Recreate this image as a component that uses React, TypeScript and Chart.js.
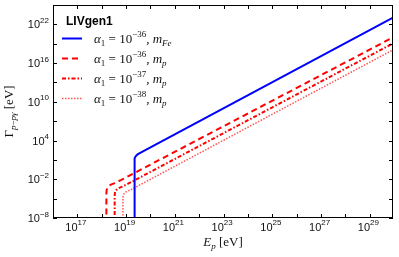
import { useEffect, useRef } from 'react';
import { Chart, registerables } from 'chart.js';

Chart.register(...registerables);

// ---- axis ranges & ticks ----
const X_MIN = 1e16;
const X_MAX = 8.91e29;
const Y_MIN = 1e-8;
const Y_MAX = 1e25;
const xTickExps = [16, 17, 18, 19, 20, 21, 22, 23, 24, 25, 26, 27, 28, 29];
const xLabelExps = [17, 19, 21, 23, 25, 27, 29];
const yTickExps = [-8, -5, -2, 1, 4, 7, 10, 13, 16, 19, 22];
const yLabelExps = [-8, -2, 4, 10, 16, 22];

// ---- series (E_p [eV], Gamma [eV]) ----
const feE = [2.19e19, 2.19e19, 2.21e19, 2.29e19, 2.51e19, 2.95e19, 3.63e19, 5.62e19, 8.91e29];
const feG = [1e-9, 1.58, 6.31, 17.8, 39.8, 70.8, 112, 282, 1.12e23];

const p36E = [1.55e18, 1.55e18, 1.585e18, 1.70e18, 2.0e18, 2.51e18, 3.39e18, 6.31e18, 8.91e29];
const p36G = [1e-9, 6.31e-5, 2.0e-4, 5.01e-4, 1e-3, 1.58e-3, 2.51e-3, 7.94e-3, 9.55e19];

const p37E = [3.39e18, 3.39e18, 3.47e18, 3.72e18, 4.37e18, 5.5e18, 7.41e18, 1.26e19, 8.91e29];
const p37G = [1e-9, 2.51e-5, 7.94e-5, 1.78e-4, 3.16e-4, 5.01e-4, 7.94e-4, 2.24e-3, 1.12e19];

const p38E = [7.41e18, 7.41e18, 7.59e18, 8.13e18, 9.55e18, 1.2e19, 1.58e19, 2.82e19, 8.91e29];
const p38G = [1e-9, 7.94e-6, 2.51e-5, 5.62e-5, 1e-4, 1.58e-4, 2.51e-4, 7.94e-4, 1.12e18];

const legendTitle = 'LIVgen1';
const legendAlphaExp = ['−36', '−36', '−37', '−38'];
const legendMass = ['Fe', 'p', 'p', 'p'];

const SANS = '"Liberation Sans", Arial, sans-serif';
const SERIF = '"Liberation Serif", "Times New Roman", serif';

type Style = { color: string; width: number; dash: number[] };
const styles: Style[] = [
  { color: '#0000ff', width: 2, dash: [] },
  { color: '#ff0000', width: 2, dash: [6, 4] },
  { color: '#ff0000', width: 2, dash: [4, 2, 1.5, 2] },
  { color: 'rgba(255,40,40,0.8)', width: 1.5, dash: [1.5, 1.5] },
];

const toPts = (xs: number[], ys: number[]) => xs.map((x, i) => ({ x, y: ys[i] }));

type Part = { t: string; f: string; dy?: number };
function partsWidth(ctx: CanvasRenderingContext2D, parts: Part[]) {
  let w = 0;
  for (const p of parts) {
    ctx.font = p.f;
    w += ctx.measureText(p.t).width;
  }
  return w;
}
function drawParts(ctx: CanvasRenderingContext2D, parts: Part[], x: number, y: number) {
  let cx = x;
  for (const p of parts) {
    ctx.font = p.f;
    ctx.fillText(p.t, cx, y + (p.dy || 0));
    cx += ctx.measureText(p.t).width;
  }
}
const supMinus = (e: number) => (e < 0 ? '−' + String(-e) : String(e));
const powParts = (e: number): Part[] => [
  { t: '10', f: `11px ${SANS}` },
  { t: supMinus(e), f: `8px ${SANS}`, dy: -5.5 },
];

const overlay = {
  id: 'overlay',
  afterDraw(chart: any) {
    const { ctx, chartArea: a, scales } = chart;
    const xs = scales.x;
    const ys = scales.y;
    ctx.save();
    ctx.strokeStyle = '#000';
    ctx.lineWidth = 1;
    ctx.setLineDash([]);
    // frame
    ctx.strokeRect(Math.round(a.left) + 0.5, Math.round(a.top) + 0.5, Math.round(a.width) - 1, Math.round(a.height) - 1);
    // inward ticks
    ctx.beginPath();
    for (const e of xTickExps) {
      const px = Math.round(xs.getPixelForValue(Math.pow(10, e))) + 0.5;
      ctx.moveTo(px, a.bottom);
      ctx.lineTo(px, a.bottom - 4);
      ctx.moveTo(px, a.top);
      ctx.lineTo(px, a.top + 4);
    }
    for (const e of yTickExps) {
      const py = Math.round(ys.getPixelForValue(Math.pow(10, e))) + 0.5;
      ctx.moveTo(a.left, py);
      ctx.lineTo(a.left + 4, py);
      ctx.moveTo(a.right, py);
      ctx.lineTo(a.right - 4, py);
    }
    ctx.stroke();

    // tick labels
    ctx.fillStyle = '#111';
    ctx.textBaseline = 'alphabetic';
    ctx.textAlign = 'left';
    for (const e of xLabelExps) {
      const px = xs.getPixelForValue(Math.pow(10, e));
      const parts = powParts(e);
      const w = partsWidth(ctx, parts);
      drawParts(ctx, parts, px - w / 2 - 1.5, 230.5);
    }
    for (const e of yLabelExps) {
      const py = ys.getPixelForValue(Math.pow(10, e));
      const parts = powParts(e);
      const w = partsWidth(ctx, parts);
      drawParts(ctx, parts, a.left - 4 - w, py + 4);
    }

    // axis titles
    const xt: Part[] = [
      { t: 'E', f: `italic 13px ${SERIF}` },
      { t: 'p', f: `italic 9px ${SERIF}`, dy: 3 },
      { t: ' [eV]', f: `13px ${SERIF}` },
    ];
    const xw = partsWidth(ctx, xt);
    drawParts(ctx, xt, (a.left + a.right) / 2 - xw / 2, 246);

    const yt: Part[] = [
      { t: 'Γ', f: `13px ${SERIF}` },
      { t: 'p', f: `italic 9px ${SERIF}`, dy: 3 },
      { t: '−', f: `9px ${SERIF}`, dy: 3 },
      { t: 'pγ', f: `italic 9px ${SERIF}`, dy: 3 },
      { t: ' [eV]', f: `13px ${SERIF}` },
    ];
    const yw = partsWidth(ctx, yt);
    ctx.save();
    ctx.translate(13, (a.top + a.bottom) / 2);
    ctx.rotate(-Math.PI / 2);
    drawParts(ctx, yt, -yw / 2, 0);
    ctx.restore();

    // legend
    ctx.font = `bold 12px ${SANS}`;
    ctx.fillStyle = '#000';
    ctx.fillText(legendTitle, 66, 25);
    for (let i = 0; i < legendMass.length; i++) {
      const ly = 38.5 + i * 20;
      const s = styles[i];
      ctx.strokeStyle = s.color;
      ctx.lineWidth = s.width;
      ctx.setLineDash(s.dash);
      ctx.beginPath();
      ctx.moveTo(62, ly);
      ctx.lineTo(82, ly);
      ctx.stroke();
      ctx.setLineDash([]);
      const parts: Part[] = [
        { t: 'α', f: `italic 13px ${SERIF}` },
        { t: '1', f: `9px ${SERIF}`, dy: 3 },
        { t: ' = ', f: `13px ${SERIF}` },
        { t: '10', f: `13px ${SERIF}` },
        { t: legendAlphaExp[i], f: `9px ${SERIF}`, dy: -5.5 },
        { t: ', ', f: `13px ${SERIF}` },
        { t: 'm', f: `italic 13px ${SERIF}` },
        { t: legendMass[i], f: `italic 9px ${SERIF}`, dy: 3 },
      ];
      ctx.fillStyle = '#111';
      drawParts(ctx, parts, 94, ly + 4);
    }
    ctx.restore();
  },
};

export default function App() {
  const ref = useRef<HTMLCanvasElement | null>(null);
  useEffect(() => {
    if (!ref.current) return;
    const series = [toPts(feE, feG), toPts(p36E, p36G), toPts(p37E, p37G), toPts(p38E, p38G)];
    const chart = new Chart(ref.current, {
      type: 'line',
      data: {
        datasets: series.map((d, i) => ({
          data: d,
          borderColor: styles[i].color,
          borderWidth: styles[i].width,
          borderDash: styles[i].dash,
          pointRadius: 0,
          tension: 0,
          fill: false,
        })),
      },
      options: {
        responsive: false,
        animation: false,
        layout: { padding: { left: 0, right: 6, top: 5, bottom: 0 } },
        plugins: { legend: { display: false }, tooltip: { enabled: false } },
        scales: {
          x: {
            type: 'logarithmic',
            min: X_MIN,
            max: X_MAX,
            grid: { display: false },
            border: { display: false },
            ticks: { display: false },
            afterFit: (s: any) => {
              s.height = 39;
            },
          },
          y: {
            type: 'logarithmic',
            min: Y_MIN,
            max: Y_MAX,
            grid: { display: false },
            border: { display: false },
            ticks: { display: false },
            afterFit: (s: any) => {
              s.width = 53;
            },
          },
        },
      },
      plugins: [overlay],
    } as any);
    return () => chart.destroy();
  }, []);
  return (
    <div style={{ position: 'fixed', left: 0, top: 0, width: 399, height: 257, background: '#fff' }}>
      <canvas ref={ref} width={399} height={257} style={{ display: 'block' }} />
    </div>
  );
}
